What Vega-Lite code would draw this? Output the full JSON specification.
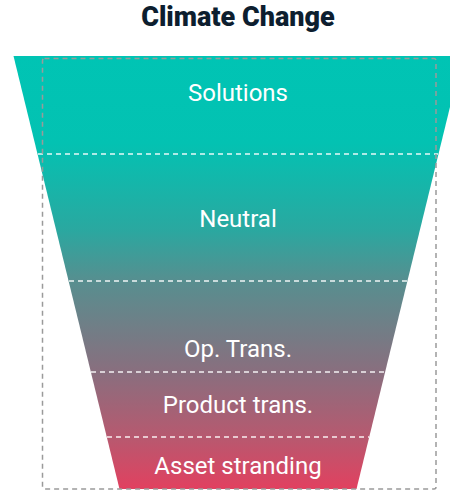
{
  "$schema": "https://vega.github.io/schema/vega-lite/v6.json",
  "width": 450,
  "height": 433,
  "autosize": "none",
  "padding": {"left": 0, "top": 56, "right": 0, "bottom": 2},
  "background": "white",
  "title": {
    "text": "Climate Change",
    "font": "Roboto",
    "fontSize": 27,
    "fontWeight": 900,
    "color": "#0d1e2f",
    "anchor": "middle",
    "frame": "group",
    "baseline": "alphabetic",
    "offset": 3,
    "dx": 13
  },
  "config": {"view": {"stroke": null}},
  "datasets": {
    "funnel": [
      {"pos": 0, "left": -224.5, "right": 224.5},
      {"pos": 435, "left": -118, "right": 118}
    ],
    "dividers": [
      {"pos": 98, "left": -200, "right": 200},
      {"pos": 225, "left": -169, "right": 169},
      {"pos": 316, "left": -147, "right": 147},
      {"pos": 381, "left": -131, "right": 131}
    ],
    "stages": [
      {"label": "Solutions", "labelPos": 38},
      {"label": "Neutral", "labelPos": 164},
      {"label": "Op. Trans.", "labelPos": 294},
      {"label": "Product trans.", "labelPos": 350},
      {"label": "Asset stranding", "labelPos": 411}
    ],
    "frame": [
      {"x1": -195.5, "x2": 198, "y1": 2.5, "y2": 433}
    ]
  },
  "layer": [
    {
      "data": {"name": "funnel"},
      "mark": {
        "type": "area",
        "orient": "horizontal",
        "clip": true,
        "fill": {
          "gradient": "linear",
          "x1": 0, "y1": 0, "x2": 0, "y2": 1,
          "stops": [
            {"offset": 0, "color": "#00c4b4"},
            {"offset": 0.2, "color": "#03c2b2"},
            {"offset": 0.4, "color": "#2aa8a0"},
            {"offset": 0.52, "color": "#588e8f"},
            {"offset": 0.73, "color": "#8a6e7e"},
            {"offset": 0.87, "color": "#b55a70"},
            {"offset": 1, "color": "#e3405f"}
          ]
        }
      },
      "encoding": {
        "y": {"field": "pos", "type": "quantitative", "scale": {"domain": [0, 433], "reverse": true, "nice": false, "zero": false}, "axis": null},
        "x": {"field": "left", "type": "quantitative", "scale": {"domain": [-238, 212], "nice": false, "zero": false}, "axis": null},
        "x2": {"field": "right"}
      }
    },
    {
      "data": {"name": "dividers"},
      "mark": {"type": "rule", "color": "#ffffff", "strokeWidth": 1.5, "strokeDash": [5, 4], "opacity": 0.9},
      "encoding": {
        "y": {"field": "pos", "type": "quantitative", "scale": {"domain": [0, 433], "reverse": true, "nice": false, "zero": false}, "axis": null},
        "x": {"field": "left", "type": "quantitative", "scale": {"domain": [-238, 212], "nice": false, "zero": false}, "axis": null},
        "x2": {"field": "right"}
      }
    },
    {
      "data": {"name": "frame"},
      "mark": {"type": "rect", "fill": null, "fillOpacity": 0, "stroke": "#9a9a9a", "strokeWidth": 1.5, "strokeDash": [5, 4], "cornerRadius": 2},
      "encoding": {
        "x": {"field": "x1", "type": "quantitative", "scale": {"domain": [-238, 212], "nice": false, "zero": false}, "axis": null},
        "x2": {"field": "x2"},
        "y": {"field": "y1", "type": "quantitative", "scale": {"domain": [0, 433], "reverse": true, "nice": false, "zero": false}, "axis": null},
        "y2": {"field": "y2"}
      }
    },
    {
      "data": {"name": "stages"},
      "mark": {"type": "text", "font": "Roboto", "fontSize": 24, "fontWeight": 400, "color": "#ffffff", "align": "center", "baseline": "middle"},
      "encoding": {
        "text": {"field": "label", "type": "nominal"},
        "x": {"datum": 0, "type": "quantitative", "scale": {"domain": [-238, 212], "nice": false, "zero": false}, "axis": null},
        "y": {"field": "labelPos", "type": "quantitative", "scale": {"domain": [0, 433], "reverse": true, "nice": false, "zero": false}, "axis": null}
      }
    }
  ]
}
